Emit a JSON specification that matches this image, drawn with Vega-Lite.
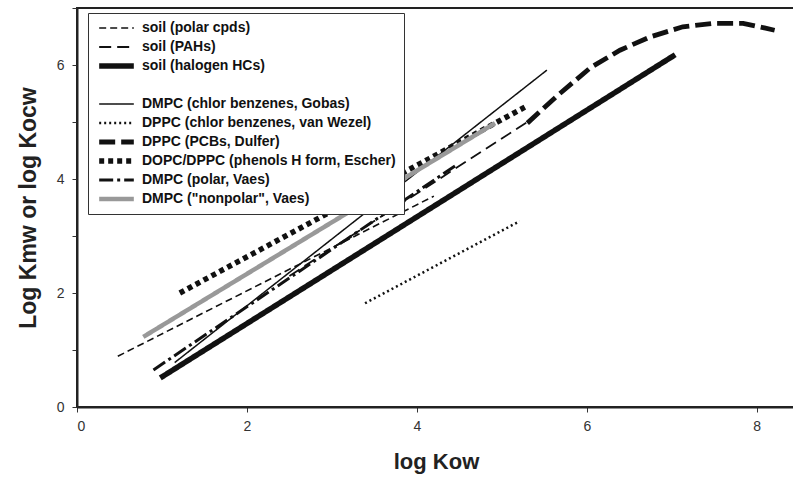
{
  "$schema": "https://vega.github.io/schema/vega-lite/v6.json",
  "width": 718,
  "height": 399,
  "autosize": {"type": "none"},
  "padding": {"left": 77, "top": 8, "right": 0, "bottom": 78},
  "background": "white",
  "config": {
    "view": {"stroke": "#222", "strokeWidth": 2},
    "font": "Liberation Sans"
  },
  "data": {
    "values": [
      {"series": "soil (polar cpds)", "x": 0.48, "y": 0.89},
      {"series": "soil (polar cpds)", "x": 4.2, "y": 3.7},
      {"series": "soil (PAHs)", "x": 2.5, "y": 2.3},
      {"series": "soil (PAHs)", "x": 5.3, "y": 5.0},
      {"series": "soil (halogen HCs)", "x": 0.98, "y": 0.51},
      {"series": "soil (halogen HCs)", "x": 7.04, "y": 6.18},
      {"series": "DMPC (chlor benzenes, Gobas)", "x": 1.15, "y": 0.78},
      {"series": "DMPC (chlor benzenes, Gobas)", "x": 5.53, "y": 5.91},
      {"series": "DPPC (chlor benzenes, van Wezel)", "x": 3.39, "y": 1.82},
      {"series": "DPPC (chlor benzenes, van Wezel)", "x": 5.21, "y": 3.26},
      {"series": "DPPC (PCBs, Dulfer)", "x": 5.3, "y": 4.98},
      {"series": "DPPC (PCBs, Dulfer)", "x": 5.66, "y": 5.47},
      {"series": "DPPC (PCBs, Dulfer)", "x": 6.04, "y": 5.95},
      {"series": "DPPC (PCBs, Dulfer)", "x": 6.39, "y": 6.26},
      {"series": "DPPC (PCBs, Dulfer)", "x": 6.74, "y": 6.49},
      {"series": "DPPC (PCBs, Dulfer)", "x": 7.13, "y": 6.67},
      {"series": "DPPC (PCBs, Dulfer)", "x": 7.48, "y": 6.73},
      {"series": "DPPC (PCBs, Dulfer)", "x": 7.84, "y": 6.73},
      {"series": "DPPC (PCBs, Dulfer)", "x": 8.09, "y": 6.65},
      {"series": "DPPC (PCBs, Dulfer)", "x": 8.21, "y": 6.61},
      {"series": "DOPC/DPPC (phenols H form, Escher)", "x": 1.21, "y": 2.0},
      {"series": "DOPC/DPPC (phenols H form, Escher)", "x": 5.27, "y": 5.26},
      {"series": "DMPC (polar, Vaes)", "x": 0.9, "y": 0.65},
      {"series": "DMPC (polar, Vaes)", "x": 4.47, "y": 4.25},
      {"series": "DMPC (\"nonpolar\", Vaes)", "x": 0.78, "y": 1.23},
      {"series": "DMPC (\"nonpolar\", Vaes)", "x": 4.92, "y": 4.98}
    ]
  },
  "mark": {"type": "line", "strokeCap": "butt", "clip": true},
  "encoding": {
    "x": {
      "field": "x", "type": "quantitative",
      "scale": {"domain": [0, 8.45], "nice": false},
      "axis": {
        "values": [0, 2, 4, 6, 8], "grid": false,
        "title": "log Kow", "titleFontSize": 22, "titleFontWeight": "bold", "titleColor": "#222",
        "titlePadding": 18,
        "labelFontSize": 14, "labelColor": "#333", "labelPadding": 7,
        "domainColor": "#222", "domainWidth": 2, "tickColor": "#333", "tickSize": 5
      }
    },
    "y": {
      "field": "y", "type": "quantitative",
      "scale": {"domain": [0, 7], "nice": false},
      "axis": {
        "values": [0, 1, 2, 3, 4, 5, 6, 7], "grid": false,
        "labelExpr": "datum.value % 2 == 0 ? datum.label : ''",
        "title": "Log Kmw or log Kocw", "titleFontSize": 23, "titleFontWeight": "bold", "titleColor": "#222",
        "titlePadding": 16,
        "labelFontSize": 14, "labelColor": "#333", "labelPadding": 8,
        "domainColor": "#222", "domainWidth": 2, "tickColor": "#333", "tickSize": 5
      }
    },
    "color": {
      "field": "series", "type": "nominal",
      "scale": {
        "domain": ["soil (polar cpds)", "soil (PAHs)", "soil (halogen HCs)", " ", "DMPC (chlor benzenes, Gobas)", "DPPC (chlor benzenes, van Wezel)", "DPPC (PCBs, Dulfer)", "DOPC/DPPC (phenols H form, Escher)", "DMPC (polar, Vaes)", "DMPC (\"nonpolar\", Vaes)"],
        "range": ["#111", "#111", "#111", "white", "#111", "#111", "#111", "#111", "#111", "#999999"]
      },
      "legend": {
        "title": null, "orient": "none", "legendX": 11, "legendY": 5,
        "symbolType": "stroke", "symbolSize": 1200, "clipHeight": 14,
        "labelFontSize": 14, "labelFontWeight": "bold", "labelColor": "#111", "labelLimit": 400,
        "labelOffset": 5, "rowPadding": 5, "padding": 8,
        "strokeColor": "#333", "fillColor": "white"
      }
    },
    "strokeDash": {
      "field": "series", "type": "nominal",
      "scale": {
        "domain": ["soil (polar cpds)", "soil (PAHs)", "soil (halogen HCs)", " ", "DMPC (chlor benzenes, Gobas)", "DPPC (chlor benzenes, van Wezel)", "DPPC (PCBs, Dulfer)", "DOPC/DPPC (phenols H form, Escher)", "DMPC (polar, Vaes)", "DMPC (\"nonpolar\", Vaes)"],
        "range": [[7, 4], [12, 6], [1, 0], [1, 0], [1, 0], [2, 3], [16, 6], [5, 4], [14, 4, 3, 4], [1, 0]]
      },
      "legend": {
        "title": null, "orient": "none", "legendX": 11, "legendY": 5,
        "symbolType": "stroke", "symbolSize": 1200, "clipHeight": 14,
        "labelFontSize": 14, "labelFontWeight": "bold", "labelColor": "#111", "labelLimit": 400,
        "labelOffset": 5, "rowPadding": 5, "padding": 8,
        "strokeColor": "#333", "fillColor": "white"
      }
    },
    "strokeWidth": {
      "field": "series", "type": "nominal",
      "scale": {
        "type": "ordinal",
        "domain": ["soil (polar cpds)", "soil (PAHs)", "soil (halogen HCs)", " ", "DMPC (chlor benzenes, Gobas)", "DPPC (chlor benzenes, van Wezel)", "DPPC (PCBs, Dulfer)", "DOPC/DPPC (phenols H form, Escher)", "DMPC (polar, Vaes)", "DMPC (\"nonpolar\", Vaes)"],
        "range": [1.6, 1.8, 5.5, 0.1, 1.5, 2.5, 4.8, 5.5, 3, 4.5]
      },
      "legend": {
        "title": null, "orient": "none", "legendX": 11, "legendY": 5,
        "symbolType": "stroke", "symbolSize": 1200, "clipHeight": 14,
        "labelFontSize": 14, "labelFontWeight": "bold", "labelColor": "#111", "labelLimit": 400,
        "labelOffset": 5, "rowPadding": 5, "padding": 8,
        "strokeColor": "#333", "fillColor": "white"
      }
    }
  }
}
